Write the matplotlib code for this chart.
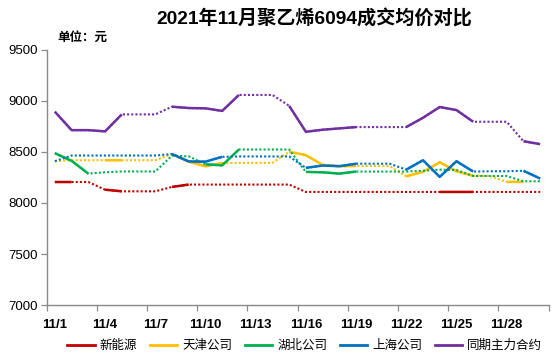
import numpy as np
import matplotlib
matplotlib.use('Agg')
import matplotlib.pyplot as plt
from matplotlib.lines import Line2D

plt.rcParams['font.family'] = ['Liberation Sans', 'Noto Sans CJK SC', 'DejaVu Sans']

# 11月每日 (30天)
days = ['11/%d' % d for d in range(1, 31)]

# 实际成交价 (None = 当天无数据)
xinnengyuan = [8205, 8205, None, 8130, 8114, None, None, 8157, 8180, None,
               None, None, None, None, None, None, None, None, None, None,
               None, None, None, 8108, 8108, 8108, None, None, None, None]
tianjin = [None, None, None, 8418, 8418, None, None, 8478, 8404, 8359,
           8390, None, None, None, 8500, 8467, 8372, 8359, 8362, None,
           None, 8261, 8305, 8398, 8310, 8266, None, 8206, 8206, None]
hubei = [8487, 8412, 8287, None, None, None, None, None, None, 8378,
         8368, 8523, None, None, None, 8304, 8300, 8287, 8307, None,
         None, None, None, None, None, None, None, None, None, None]
shanghai = [None, None, None, None, None, None, None, 8478, 8406, 8404,
            8451, None, None, None, None, 8343, 8366, 8360, 8384, None,
            None, 8326, 8418, 8255, 8408, 8307, None, None, 8315, 8239]
zhuli = [8892, 8712, 8712, 8700, 8866, None, None, 8941, 8928, 8925,
         8900, 9056, None, None, 8950, 8696, 8716, 8729, 8742, None,
         None, 8742, 8833, 8938, 8908, 8794, None, None, 8604, 8575]

# 无数据日的补齐值 (虚线部分)
xinnengyuan_fill = [None, None, 8205, None, None, 8114, 8114, None, None, 8180,
                    8180, 8180, 8180, 8180, 8180, 8108, 8108, 8108, 8108, 8108,
                    8108, 8108, 8108, None, None, None, 8108, 8108, 8108, 8108]
tianjin_fill = [8410, 8418, 8418, None, None, 8418, 8418, None, None, None,
                None, 8392, 8392, 8392, None, None, None, None, None, 8362,
                8362, None, None, None, None, None, 8264, None, None, None]
hubei_fill = [None, None, None, 8300, 8308, 8308, 8308, 8462, 8456, None,
              None, None, 8523, 8523, 8523, None, None, None, None, 8307,
              8307, 8307, 8315, 8326, 8322, 8264, 8264, 8264, 8212, 8212]
shanghai_fill = [8408, 8464, 8464, 8464, 8464, 8464, 8464, None, None, None,
                 None, 8455, 8455, 8455, 8455, None, None, None, None, 8384,
                 8384, None, None, None, None, None, 8310, 8310, None, None]
zhuli_fill = [None, None, None, None, None, 8866, 8866, None, None, None,
              None, None, 9056, 9056, None, None, None, None, None, 8742,
              8742, None, None, None, None, None, 8794, 8794, None, None]

names = ['新能源', '天津公司', '湖北公司', '上海公司', '同期主力合约']
colors = ['#C00000', '#FFC000', '#00B050', '#0070C0', '#7030A0']
series = [(xinnengyuan, xinnengyuan_fill), (tianjin, tianjin_fill),
          (hubei, hubei_fill), (shanghai, shanghai_fill), (zhuli, zhuli_fill)]


def to_arr(vals):
    return np.array([np.nan if v is None else v for v in vals], dtype=float)


fig = plt.figure(figsize=(5.55, 3.57), dpi=100)
ax = fig.add_axes([46.5 / 555, 0.1448, 502 / 555, 0.7165])

x = np.arange(len(days))
for (real, fill), c in zip(series, colors):
    r = to_arr(real)
    f = to_arr(fill)
    full = np.where(np.isnan(r), f, r)
    ax.plot(x, full, color=c, lw=1.5, linestyle=(0, (1, 1)), dash_capstyle='butt')
    ax.plot(x, r, color=c, lw=1.8, solid_capstyle='butt')

ax.set_xlim(-0.5, len(days) - 0.5)
ax.set_ylim(7000, 9500)
ax.set_yticks(np.arange(7000, 9501, 500))

# 刻度线在类别之间, 标签在类别中心
ax.set_xticks(np.arange(-0.5, len(days), 3))
ax.set_xticklabels([])
ax.set_xticks(x[::3], minor=True)
ax.set_xticklabels(days[::3], minor=True, fontsize=9.5, fontweight='bold')
ax.tick_params(axis='x', which='major', length=4.5, width=0.9, color='#898989', direction='out')
ax.tick_params(axis='x', which='minor', length=0, pad=10)
ax.tick_params(axis='y', length=4.5, width=0.9, color='#898989', labelsize=9.5, pad=2)

for s in ['top', 'right']:
    ax.spines[s].set_visible(False)
for s in ['left', 'bottom']:
    ax.spines[s].set_color('#898989')
    ax.spines[s].set_linewidth(1.0)

fig.text(0.567, 0.948, '2021年11月聚乙烯6094成交均价对比', ha='center', va='center',
         fontsize=13.8, fontweight='bold')
fig.text(0.104, 0.893, '单位：元', ha='left', va='center', fontsize=9, fontweight='bold')

handles = [Line2D([0], [0], color=c, lw=2) for c in colors]
fig.legend(handles, names, loc='center', bbox_to_anchor=(0.549, 0.031), ncol=5,
           frameon=False, fontsize=9, handlelength=2.2, handletextpad=0.4,
           columnspacing=1.0)

fig.savefig('out.png', dpi=100)
